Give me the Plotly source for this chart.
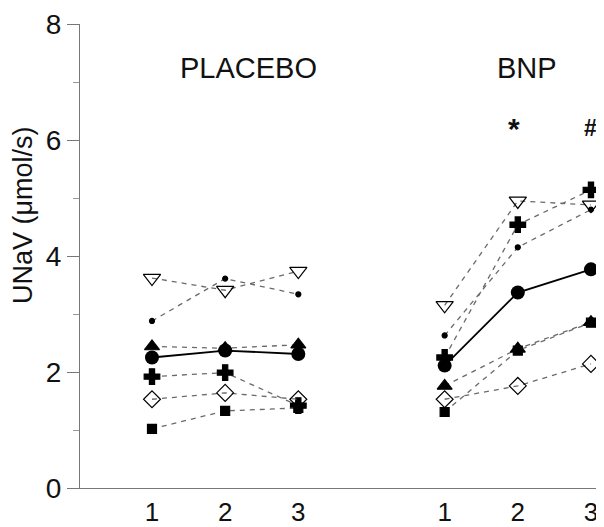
import plotly.graph_objects as go

# ---- data ----
time_labels = ["1", "2", "3"]
group_names = ["PLACEBO", "BNP"]

placebo_open_tri = [3.62, 3.41, 3.74]
placebo_dot = [2.88, 3.61, 3.34]
placebo_tri = [2.44, 2.41, 2.47]
placebo_mean = [2.25, 2.37, 2.31]
placebo_plus = [1.92, 1.99, 1.42]
placebo_diamond = [1.53, 1.64, 1.53]
placebo_square = [1.02, 1.33, 1.38]

bnp_open_tri = [3.15, 4.95, 4.88]
bnp_dot = [2.63, 4.15, 4.80]
bnp_tri = [1.76, 2.40, 2.86]
bnp_mean = [2.11, 3.37, 3.77]
bnp_plus = [2.25, 4.54, 5.14]
bnp_diamond = [1.53, 1.76, 2.14]
bnp_square = [1.31, 2.37, 2.85]

sig_marks = ["", "*", "#"]

FONT = "Liberation Sans, Arial, Helvetica, sans-serif"
DASH_COLOR = "#6a6a6a"

# x positions: placebo at 1..3, BNP at 5..7
n = len(time_labels)
x_pl = [i + 1 for i in range(n)]
x_bnp = [i + 1 + n + 1 for i in range(n)]

styles = [
    (placebo_open_tri, bnp_open_tri, "triangle-down-open", 15, "black"),
    (placebo_dot, bnp_dot, "circle", 5, "black"),
    (placebo_tri, bnp_tri, "triangle-up", 13, "black"),
    (placebo_plus, bnp_plus, "cross", 13, "black"),
    (placebo_diamond, bnp_diamond, "diamond-open", 13, "black"),
    (placebo_square, bnp_square, "square", 9, "black"),
]

fig = go.Figure()
for pl, bn, sym, size, col in styles:
    for xs, ys in ((x_pl, pl), (x_bnp, bn)):
        fig.add_trace(go.Scatter(
            x=xs, y=ys, mode="lines+markers", cliponaxis=False,
            line=dict(color=DASH_COLOR, width=1.3, dash="5px,5px"),
            marker=dict(symbol=sym, size=size, color=col,
                        line=dict(color="black", width=1.2)),
            showlegend=False, hoverinfo="skip"))

for xs, ys in ((x_pl, placebo_mean), (x_bnp, bnp_mean)):
    fig.add_trace(go.Scatter(
        x=xs, y=ys, mode="lines+markers", cliponaxis=False,
        line=dict(color="black", width=1.8),
        marker=dict(symbol="circle", size=14, color="black"),
        showlegend=False, hoverinfo="skip"))

annotations = [
    dict(x=2.32, y=7.25, text=group_names[0], font=dict(size=29)),
    dict(x=6.13, y=7.25, text=group_names[1], font=dict(size=29)),
]
for xv, m in zip(x_bnp, sig_marks):
    if m:
        annotations.append(dict(x=xv + (0.0 if m == "#" else -0.05), y=6.2,
                                text="<b>%s</b>" % m,
                                font=dict(size=30 if m == "*" else 23)))
for a in annotations:
    a.update(xref="x", yref="y", showarrow=False)
    a["font"].update(family=FONT, color="#111")

annotations.append(dict(
    xref="paper", yref="paper", x=-57 / 518, y=273 / 464,
    xanchor="center", yanchor="middle", textangle=-90, showarrow=False,
    text="UNaV (\u03bcmol/s)",
    font=dict(family=FONT, size=27, color="#111")))

fig.update_layout(
    width=596, height=519,
    margin=dict(l=72, r=6, t=16, b=39, autoexpand=False),
    paper_bgcolor="white", plot_bgcolor="white",
    font=dict(family=FONT, size=27, color="#111"),
    annotations=annotations,
    xaxis=dict(
        range=[0.016, 7.096], automargin=False,
        tickvals=x_pl + x_bnp,
        ticktext=time_labels + time_labels,
        showgrid=False, zeroline=False,
        showline=True, linecolor="#777", linewidth=1.2,
        ticks="", ticklabelstandoff=1,
        tickfont=dict(family=FONT, size=26, color="#111"),
    ),
    yaxis=dict(
        range=[0, 8], automargin=False,
        tickvals=[0, 2, 4, 6, 8],
        showgrid=False, zeroline=False,
        showline=True, linecolor="#777", linewidth=1.2,
        ticks="outside", ticklen=12, tickcolor="#777", tickwidth=1,
        minor=dict(tickvals=[1, 3, 5, 7], ticks="outside", ticklen=6,
                   tickcolor="#999", tickwidth=1),
        tickfont=dict(family=FONT, size=28, color="#111"),
    ),
)

fig.write_html("out.html")
